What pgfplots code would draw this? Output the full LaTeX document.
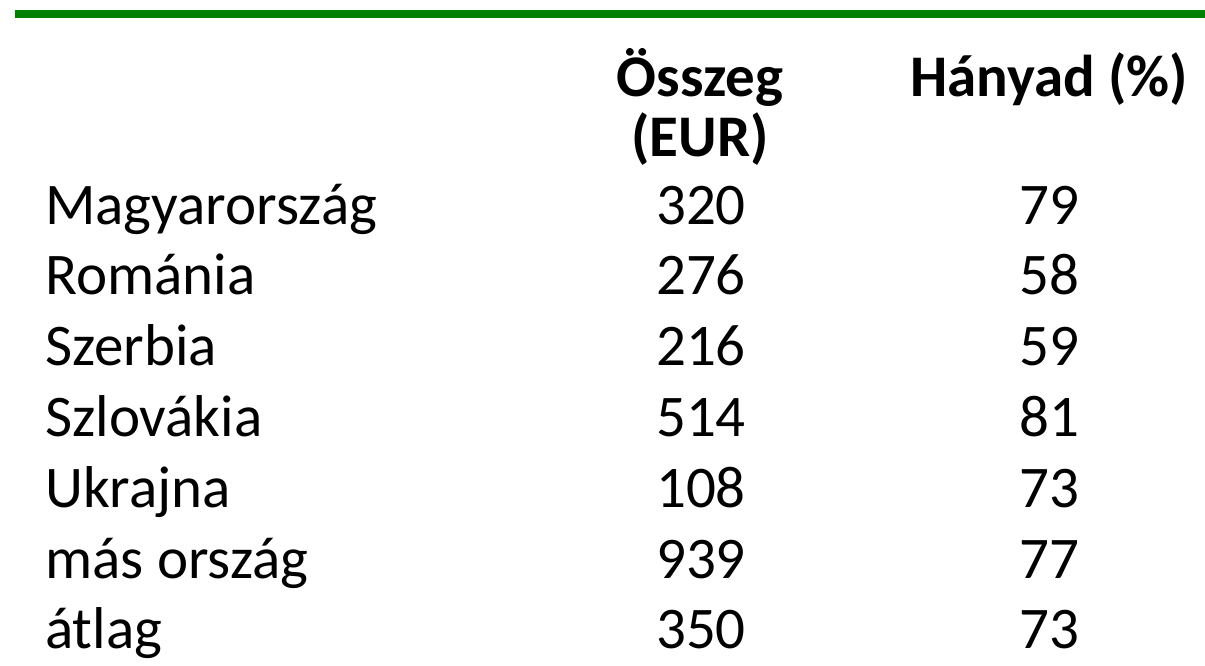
\documentclass[border=0pt]{standalone}
\usepackage{pgfplots}
\pgfplotsset{compat=1.18}
\usepackage{fontspec}
\setmainfont{Carlito}
\definecolor{linegreen}{RGB}{0,128,0}
\begin{document}
\begin{tikzpicture}
\begin{axis}[
  width=1205pt, height=665pt, scale only axis,
  xmin=0, xmax=1205, ymin=-3.164, ymax=6.229, y dir=reverse,
  hide axis, clip=false,
  every node near coord/.append style={font=\fontsize{59}{70}\selectfont, inner sep=0pt, text=black},
]
\addplot[only marks, mark=none, nodes near coords, point meta=explicit symbolic,
  every node near coord/.append style={anchor=base west}]
  table[x expr=45, y=row, meta=label] {
row label
0 Magyarország
1 Románia
2 Szerbia
3 Szlovákia
4 Ukrajna
5 {más ország}
6 átlag
};
\addplot[only marks, mark=none, nodes near coords, point meta=explicit symbolic,
  every node near coord/.append style={anchor=base}]
  table[x expr=701, y=row, meta=eur] {
row eur
0 320
1 276
2 216
3 514
4 108
5 939
6 350
};
\addplot[only marks, mark=none, nodes near coords, point meta=explicit symbolic,
  every node near coord/.append style={anchor=base}]
  table[x expr=1049, y=row, meta=pct] {
row pct
0 79
1 58
2 59
3 81
4 73
5 77
6 73
};
\draw[linegreen, line width=7.7pt] (axis cs:15,-2.970) -- (axis cs:1205,-2.970);
\node[anchor=base, inner sep=0pt, font=\fontsize{59}{70}\selectfont\bfseries] at (axis cs:700,-1.794) {Összeg};
\node[anchor=base, inner sep=0pt, font=\fontsize{59}{70}\selectfont\bfseries] at (axis cs:700,-0.960) {(EUR)};
\node[anchor=base, inner sep=0pt, font=\fontsize{59}{70}\selectfont\bfseries] at (axis cs:1049,-1.794) {Hányad (\%)};
\end{axis}
\pgfresetboundingbox
\useasboundingbox (0,0) rectangle (1205pt,665pt);
\end{tikzpicture}
\end{document}
